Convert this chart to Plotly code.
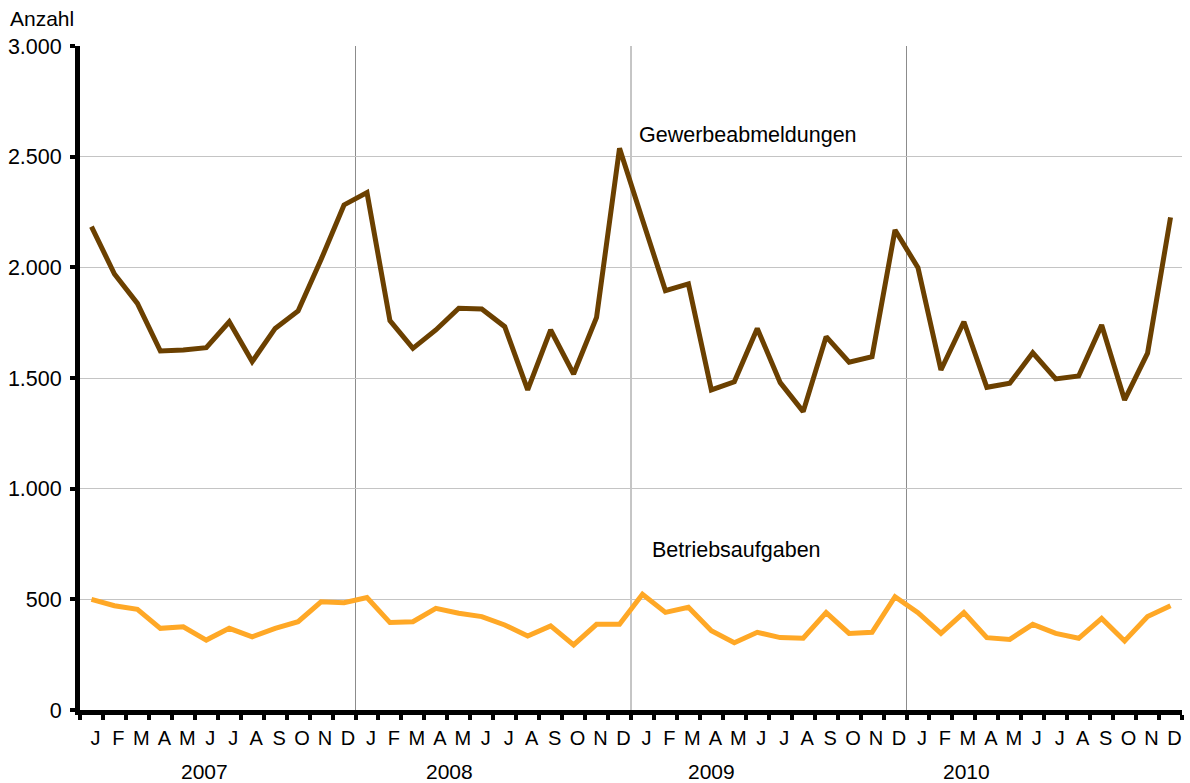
import plotly.graph_objects as go

years = ["2007", "2008", "2009", "2010"]
month_letters = ["J", "F", "M", "A", "M", "J", "J", "A", "S", "O", "N", "D"]

gewerbeabmeldungen = [
    2184, 1970, 1837, 1622, 1627, 1637, 1754, 1574, 1724, 1803, 2035, 2282,
    2338, 1759, 1634, 1717, 1815, 1812, 1732, 1446, 1717, 1518, 1774, 2538,
    2215, 1895, 1925, 1446, 1483, 1724, 1479, 1348, 1687, 1571, 1596, 2169,
    1998, 1536, 1754, 1458, 1476, 1614, 1496, 1509, 1739, 1401, 1612, 2226,
]
betriebsaufgaben = [
    500, 471, 455, 369, 376, 316, 369, 331, 369, 399, 489, 485,
    508, 395, 399, 459, 437, 422, 384, 334, 380, 294, 387, 387,
    523, 441, 464, 358, 304, 351, 327, 324, 440, 346, 351, 512,
    440, 346, 440, 327, 319, 387, 346, 324, 414, 312, 422, 471,
]
y_ticks = [0, 500, 1000, 1500, 2000, 2500, 3000]

n = len(years) * 12
x = list(range(n))
ticktext = month_letters * len(years)

FONT = "Liberation Sans, Arial, sans-serif"
BROWN = "#6b4000"
ORANGE = "#ffa826"

fig = go.Figure()
fig.add_trace(go.Scatter(x=x, y=gewerbeabmeldungen, mode="lines",
                         line=dict(color=BROWN, width=5), name="Gewerbeabmeldungen"))
fig.add_trace(go.Scatter(x=x, y=betriebsaufgaben, mode="lines",
                         line=dict(color=ORANGE, width=5), name="Betriebsaufgaben"))

# year separator lines
for k in range(1, len(years)):
    fig.add_shape(type="line", xref="x", yref="paper", x0=12 * k - 0.5, x1=12 * k - 0.5,
                  y0=0, y1=1, line=dict(color="#8c8c8c", width=1), layer="below")

annotations = [
    dict(text="Anzahl", xref="paper", yref="paper", x=-0.0653, y=1.042,
         xanchor="left", yanchor="middle", showarrow=False, font=dict(size=21)),
    dict(text="Gewerbeabmeldungen", xref="x", yref="y", x=23.76, y=2598,
         xanchor="left", yanchor="middle", showarrow=False, font=dict(size=21.5)),
    dict(text="Betriebsaufgaben", xref="x", yref="y", x=24.33, y=723,
         xanchor="left", yanchor="middle", showarrow=False, font=dict(size=21.5)),
]
year_pos = [4.94, 15.6, 27.0, 38.1]
for yr, xp in zip(years, year_pos):
    annotations.append(dict(text=yr, xref="x", yref="paper", x=xp, y=-0.092,
                            xanchor="center", yanchor="middle", showarrow=False,
                            font=dict(size=21)))

fig.update_layout(
    width=1190, height=783,
    margin=dict(l=80, r=8, t=46, b=73),
    paper_bgcolor="white", plot_bgcolor="white",
    showlegend=False,
    separators=",.",
    font=dict(family=FONT, color="black", size=20),
    annotations=annotations,
)
fig.update_xaxes(
    automargin=False,
    range=[-0.5, n - 0.5],
    tickmode="array", tickvals=x, ticktext=ticktext,
    ticks="outside", ticklen=6, tickcolor="rgba(0,0,0,0)",
    ticklabelshift=4,
    tickfont=dict(size=20),
    showgrid=False, zeroline=False,
    showline=True, linecolor="black", linewidth=5,
    minor=dict(tickmode="linear", tick0=-0.5, dtick=1, ticks="outside",
               ticklen=5, tickwidth=4, tickcolor="black", showgrid=False),
)
fig.update_yaxes(
    automargin=False,
    range=[0, 3000],
    tickmode="array", tickvals=y_ticks, tickformat=",d",
    ticks="outside", ticklen=5, tickwidth=4, tickcolor="black",
    ticklabelstandoff=4,
    tickfont=dict(size=21.5),
    showgrid=True, gridcolor="#c4c4c4", gridwidth=1,
    zeroline=False,
    showline=True, linecolor="black", linewidth=5,
)

fig.write_html("out.html",
               config={"displayModeBar": False},
               post_script="document.body.style.margin='0';document.body.style.overflow='hidden';")
